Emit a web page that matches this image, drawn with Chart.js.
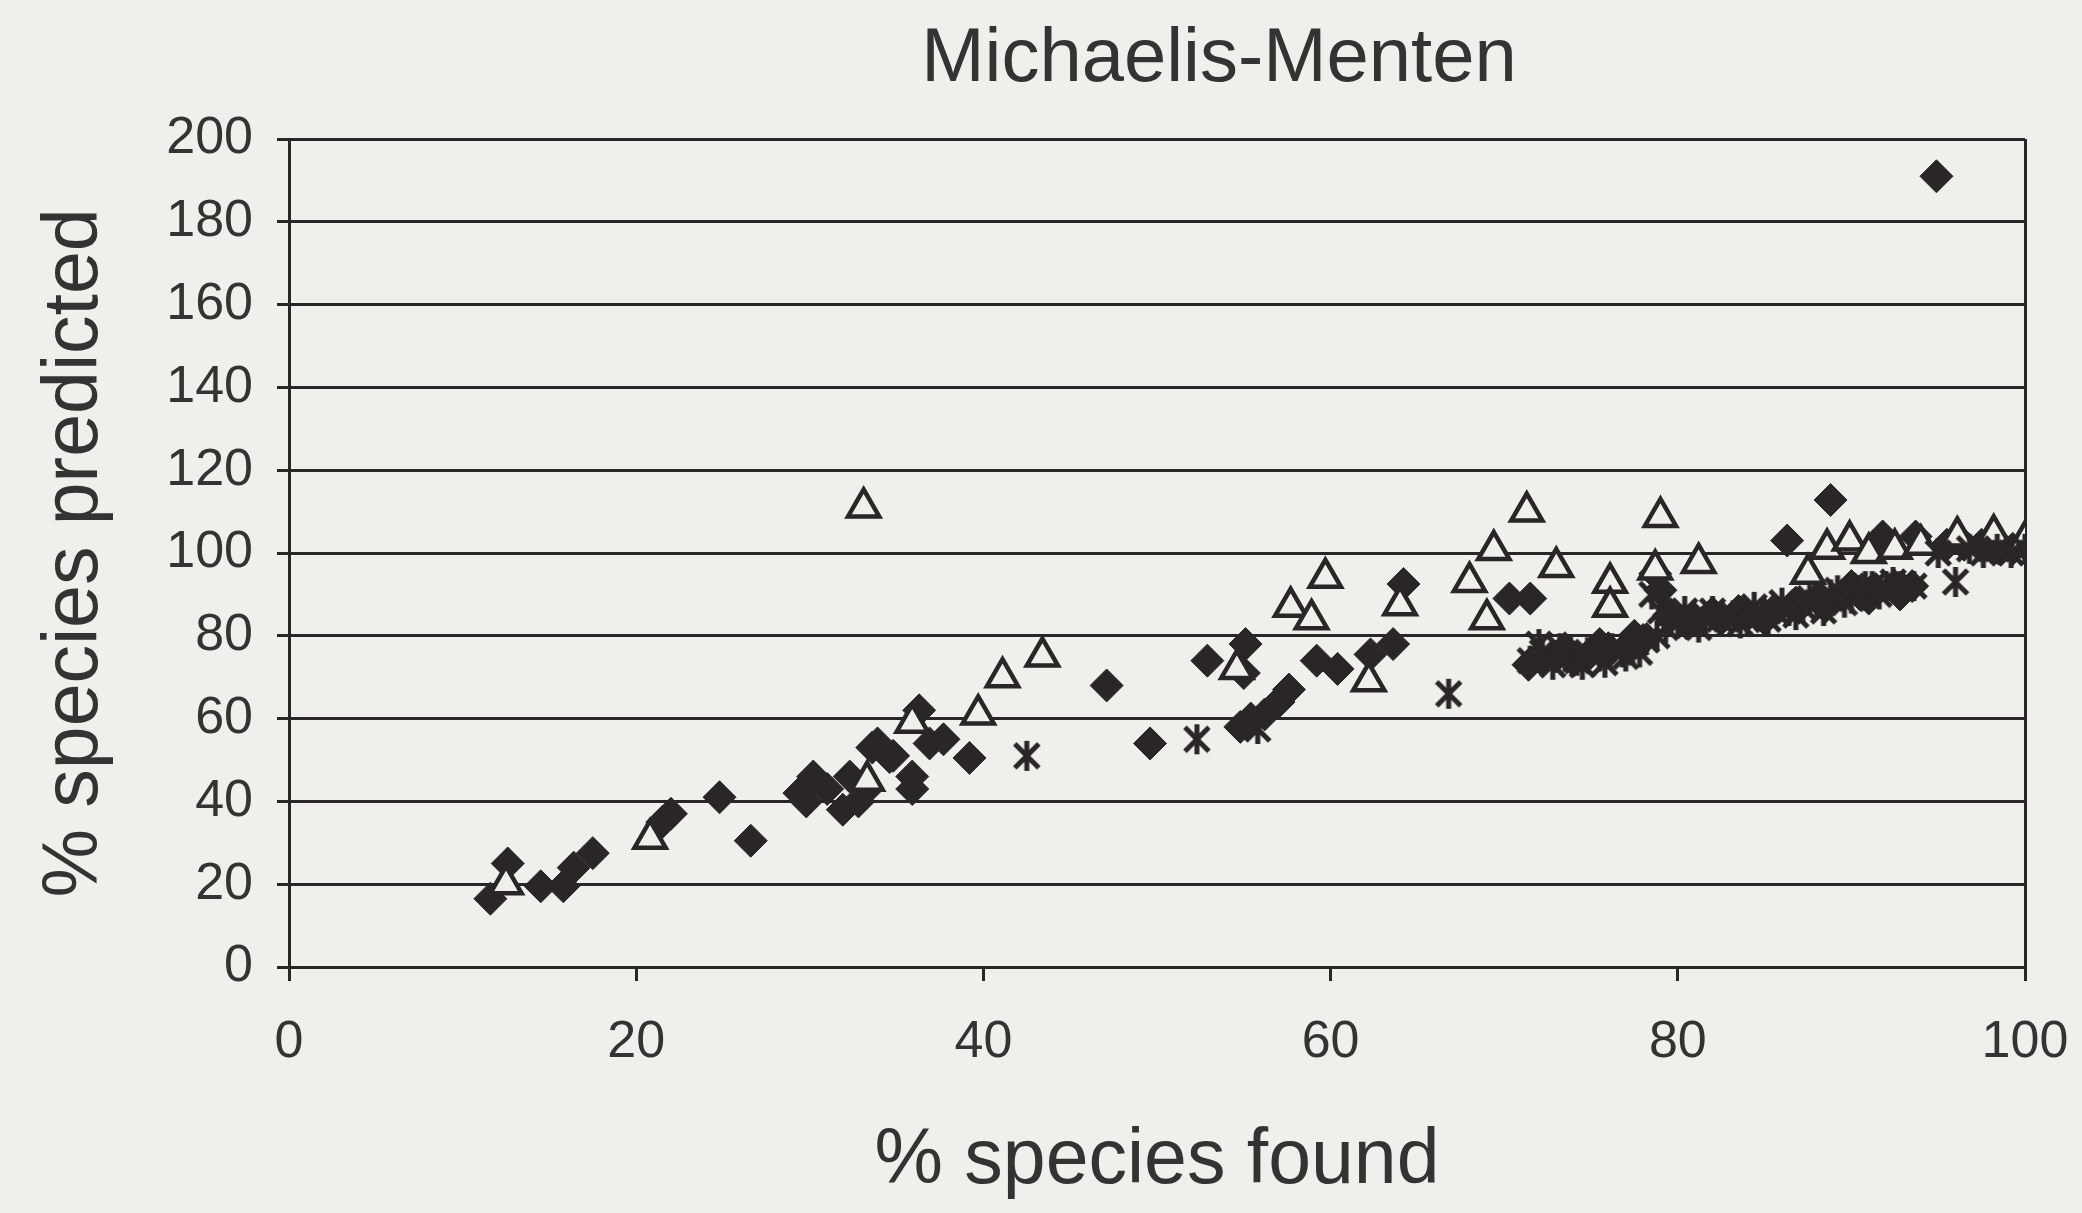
<!DOCTYPE html>
<html>
<head>
<meta charset="utf-8">
<script src="https://cdn.jsdelivr.net/npm/chart.js@4.4.0/dist/chart.umd.min.js"></script>
<style>
  html, body { margin: 0; padding: 0; background: #efefeb; }
  #wrap { width: 2082px; height: 1213px; }
</style>
</head>
<body>
<div id="wrap"><canvas id="c" width="2082" height="1213"></canvas></div>
<script>
// ---- data ----
const chartTitle = "Michaelis-Menten";
const xAxisTitle = "% species found";
const yAxisTitle = "% species predicted";
const xTicks = [0, 20, 40, 60, 80, 100];
const yTicks = [0, 20, 40, 60, 80, 100, 120, 140, 160, 180, 200];

// filled diamonds
const diamondX = [11.6,12.6,14.5,15.8,16.4,17.5,21.5,22,24.8,26.6,29.4,29.8,30.2,31,31.9,32.3,32.8,33.3,33.6,34.6,34.8,33.9,35.9,35.9,36.3,36.9,37.7,39.2,47.1,49.6,52.9,55.1,55,54.8,55.4,56.2,57,57.6,59.2,60.4,62.3,63.6,64.2,70.3,71.5,71.4,72.2,73,73.5,74,75,75.5,76,77,77.5,78,78.7,79,79.5,80.5,81,82,82.5,83.5,84,85,85.5,86.3,86.8,87,88,88.5,88.8,89.5,90,90.5,91,91.2,91.8,92.5,92.8,93.5,93.7,94.9,95.5,96.5,97.5,98.5,99.3,100];
const diamondY = [16.5,25,19.5,19.5,24,27.5,35,37,41,30.5,42,40,46,43,38,46,40,43,53,50.7,51,54,46,43,62,54,55,50.5,68,54,74,78,71,58,60,61,64,67,74,72,75.5,78,92.5,89,89,73,74,75,77,74,76,78,77,77,80,79,95,91,85,83,84,85.5,84,86,85,84,86,103,88,87,89,87,112.8,90,92,90,89,91,104,92,90,92,104,191,102,102,102,101,101,102];

// open triangles
const triangleX = [12.5,20.8,33.1,33.3,35.9,39.7,41.1,43.4,54.6,57.7,58.9,59.7,62.2,64,68,69,69.4,71.3,73,76.1,76.1,78.7,79,81.2,87.5,88.6,89.9,91,92.5,94,96.1,98.2,100];
const triangleY = [20,31,111,45,59,61,70,75,72,87,84,94,69,87.4,93,84,100.7,110,96.6,92.8,87,96,108.7,97.6,95,101,103,100,101,102,104,104.5,103];

// asterisks
const starX = [42.5,52.3,55.8,66.8,71.5,72,72.2,72.8,73.2,73.5,74.2,74.5,74.8,75.5,75.8,76.2,76.8,77,77.5,77.8,78.2,78.8,79.3,79,78.5,80,80.4,80.8,81.2,81.6,82,82.4,83.2,83.6,84,84.4,84.8,85.2,85.6,86,86.4,86.8,87.2,87.6,88,88.4,88.8,89.2,89.6,90,90.4,90.8,91.2,91.6,92,92.4,92.8,93.6,96,95,96.8,97.6,98.4,99.2,100];
const starY = [51,55,57.5,66,74,78,76,73,77,75,74,73,76,75,73.5,77,76,75,78,76,79,80,82,86,90,83,86,84,82,84,86,84,85,83,84,87,85,84,86,88,86,85,87,89,88,86,90,91,88,89,91,92,92,90,92,93,92,92,93,100,101,100,101,100,101];

// ---- styling ----
const INK = '#2a2526';
const PAPER = '#efefeb';
const TEXT = '#333333';
const FONT = "'Liberation Sans', Arial, sans-serif";

function toPoints(xs, ys) { return xs.map((x, i) => ({ x: x, y: ys[i] })); }

// asterisk marker (X with vertical stroke)
const ast = document.createElement('canvas');
ast.width = 34; ast.height = 34;
(function () {
  const g = ast.getContext('2d');
  g.strokeStyle = INK; g.lineWidth = 5; g.lineCap = 'butt';
  g.beginPath();
  g.moveTo(5, 5); g.lineTo(29, 29);
  g.moveTo(29, 5); g.lineTo(5, 29);
  g.moveTo(17, 2); g.lineTo(17, 32);
  g.stroke();
})();

// title drawn above the plot, positioned like the reference
const titlePlugin = {
  id: 'placedTitle',
  afterDraw(chart) {
    const a = chart.chartArea;
    const ctx = chart.ctx;
    ctx.save();
    ctx.font = '76px ' + FONT;
    ctx.fillStyle = TEXT;
    ctx.textAlign = 'center';
    ctx.textBaseline = 'middle';
    ctx.fillText(chartTitle, a.left + (a.right - a.left) * 0.5357, a.top - 79);
    ctx.restore();
  }
};

new Chart(document.getElementById('c'), {
  type: 'scatter',
  data: {
    datasets: [
      { label: 'asterisk', data: toPoints(starX, starY), pointStyle: ast, pointRadius: 17 },
      { label: 'triangle', data: toPoints(triangleX, triangleY), pointStyle: 'triangle', pointRadius: 18,
        backgroundColor: PAPER, borderColor: INK, borderWidth: 4.5 },
      { label: 'diamond', data: toPoints(diamondX, diamondY), pointStyle: 'rectRot', pointRadius: 16.5,
        backgroundColor: INK, borderColor: INK, borderWidth: 1 }
    ]
  },
  plugins: [titlePlugin],
  options: {
    responsive: false,
    animation: false,
    events: [],
    layout: { padding: { left: 0, right: 57, top: 139, bottom: 0 } },
    plugins: {
      legend: { display: false },
      tooltip: { enabled: false },
      title: { display: false }
    },
    scales: {
      x: {
        type: 'linear', min: 0, max: 100,
        afterBuildTicks: s => { s.ticks = xTicks.map(v => ({ value: v })); },
        afterFit: s => { s.height = 246; s.paddingRight = 0; s.paddingLeft = 0; },
        ticks: { color: TEXT, font: { family: FONT, size: 52 }, padding: 30, maxRotation: 0 },
        grid: {
          drawOnChartArea: true, drawTicks: true, tickLength: 14, lineWidth: 3,
          color: ctx => (ctx.tick && ctx.tick.value === 100) ? INK : 'rgba(0,0,0,0)',
          tickColor: INK, tickWidth: 3
        },
        border: { display: true, color: INK, width: 3 },
        title: { display: true, text: xAxisTitle, color: TEXT,
          font: { family: FONT, size: 77, lineHeight: 1.2 }, padding: { top: 0, bottom: 5 } }
      },
      y: {
        type: 'linear', min: 0, max: 200,
        afterBuildTicks: s => { s.ticks = yTicks.map(v => ({ value: v })); },
        afterFit: s => { s.width = 289; s.paddingTop = 0; s.paddingBottom = 0; },
        ticks: { color: TEXT, font: { family: FONT, size: 52 }, padding: 24 },
        grid: { drawOnChartArea: true, drawTicks: true, tickLength: 12, lineWidth: 3, color: INK, tickColor: INK },
        border: { display: true, color: INK, width: 3 },
        title: { display: true, text: yAxisTitle, color: TEXT,
          font: { family: FONT, size: 77, lineHeight: 1.2 }, padding: { top: 30, bottom: 0 } }
      }
    }
  }
});
</script>
</body>
</html>
